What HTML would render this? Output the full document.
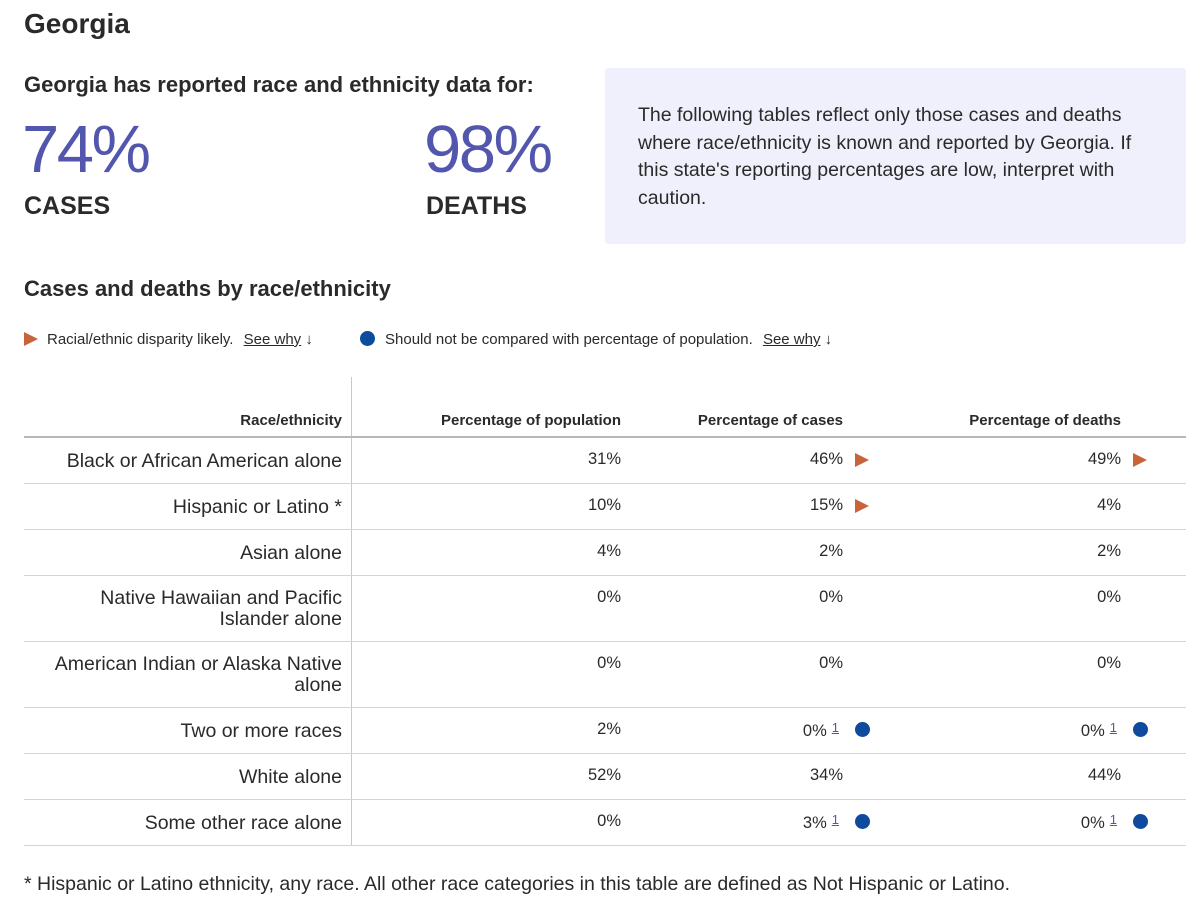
<!DOCTYPE html>
<html><head><meta charset="utf-8">
<style>
*{margin:0;padding:0;box-sizing:border-box}
body{width:1200px;height:911px;background:#fff;font-family:"Liberation Sans",sans-serif;color:#2a2a2a;position:relative;overflow:hidden}
.a{position:absolute;white-space:nowrap}
.b{font-weight:bold}
.big{font-size:67px;color:#5257ad;line-height:1;letter-spacing:-2.5px}
.hl{position:absolute;height:1px;background:#d4d4d4;left:24px;width:1162px}
.th{font-size:15px;font-weight:bold;position:absolute;top:412px}
.lab{position:absolute;right:858px;text-align:right;font-size:19.5px;line-height:21px}
.num{position:absolute;font-size:16.5px;text-align:right;white-space:nowrap}
.tri{position:absolute;width:0;height:0;border-top:7px solid transparent;border-bottom:7px solid transparent;border-left:14px solid #c8643a}
.dot{position:absolute;width:15px;height:15px;border-radius:50%;background:#0e4a9e}
.fn{font-size:13px;color:#5257ad;text-decoration:underline;vertical-align:4px;margin-left:5px}
</style></head><body>
<div class="a b" style="left:24px;top:8px;font-size:28px">Georgia</div>
<div class="a b" style="left:24px;top:72px;font-size:22px">Georgia has reported race and ethnicity data for:</div>
<div class="a big" style="left:22px;top:116px">74%</div>
<div class="a big" style="left:424px;top:116px">98%</div>
<div class="a b" style="left:24px;top:192px;font-size:25px">CASES</div>
<div class="a b" style="left:426px;top:192px;font-size:25px">DEATHS</div>
<div class="a" style="left:605px;top:68px;width:581px;height:176px;background:#f0f0fc;border-radius:3px;white-space:normal;padding:34px 40px 0 33px;font-size:19.5px;line-height:27.5px;color:#2a2a2a">The following tables reflect only those cases and deaths where race/ethnicity is known and reported by Georgia. If this state's reporting percentages are low, interpret with caution.</div>
<div class="a b" style="left:24px;top:276px;font-size:22px">Cases and deaths by race/ethnicity</div>
<div class="tri" style="left:24px;top:332px"></div>
<div class="a" style="left:47px;top:331px;font-size:15px">Racial/ethnic disparity likely. <span style="margin-left:6px;text-decoration:underline">See why</span> ↓</div>
<div class="dot" style="left:360px;top:331px"></div>
<div class="a" style="left:385px;top:331px;font-size:15px">Should not be compared with percentage of population. <span style="margin-left:6px;text-decoration:underline">See why</span> ↓</div>
<div id="tbl">
<div style="position:absolute;left:351px;top:377px;width:1px;height:468px;background:#c8c8c8"></div>
<div class="th" style="right:858px">Race/ethnicity</div>
<div class="th" style="right:579px">Percentage of population</div>
<div class="th" style="right:357px">Percentage of cases</div>
<div class="th" style="right:79px">Percentage of deaths</div>
<div class="hl" style="top:436px;height:2px;background:#b8b8b8"></div>
</div>
<div class="a" style="left:24px;top:873px;font-size:19.5px">* Hispanic or Latino ethnicity, any race. All other race categories in this table are defined as Not Hispanic or Latino.</div>
<script>
const races=["Black or African American alone","Hispanic or Latino *","Asian alone","Native Hawaiian and Pacific<br>Islander alone","American Indian or Alaska Native<br>alone","Two or more races","White alone","Some other race alone"];
const population=[31,10,4,0,0,2,52,0];
const cases=[46,15,2,0,0,0,34,3];
const deaths=[49,4,2,0,0,0,44,0];
const casesFlag=["tri","tri","","","","dot","","dot"];
const deathsFlag=["tri","","","","","dot","","dot"];
const rowHeights=[46,46,46,66,66,46,46,46];
const t=document.getElementById('tbl');
let y=438;
function mk(cls,name,style,html){const d=document.createElement('div');d.className=cls;


d.style.cssText=style;if(html!==undefined)d.innerHTML=html;t.appendChild(d);return d;}
races.forEach((r,i)=>{
  const h=rowHeights[i];
  const two=r.indexOf('<br>')>=0;
  mk('lab','race-label',`top:${y+(two?(h-42)/2:(h-21)/2)}px`,r);
  mk('num','population-value',`right:579px;top:${y+12}px`,population[i]+'%');
  const cd=casesFlag[i]==='dot', dd=deathsFlag[i]==='dot';
  mk('num','cases-value',`right:${cd?361:357}px;top:${y+12}px`,cases[i]+'%'+(cd?'<span class="fn">1</span>':''));
  mk('num','deaths-value',`right:${dd?83:79}px;top:${y+12}px`,deaths[i]+'%'+(dd?'<span class="fn">1</span>':''));
  [[casesFlag[i],855,'cases'],[deathsFlag[i],1133,'deaths']].forEach(([f,x,n])=>{
    if(f==='tri')mk('tri',n+'-disparity-marker',`left:${x}px;top:${y+15}px`);
    if(f==='dot')mk('dot',n+'-caution-marker',`left:${x}px;top:${y+14}px`);
  });
  y+=h;
  mk('hl','row-rule',`top:${y-1}px`);
});
</script>
</body></html>
